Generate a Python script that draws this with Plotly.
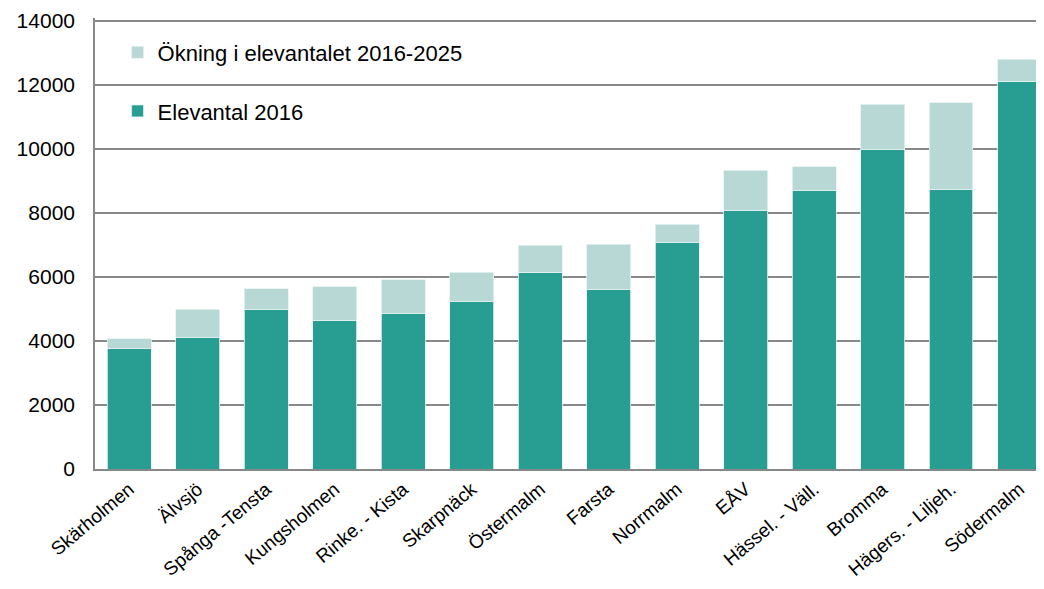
import plotly.graph_objects as go

districts = [
    "Skärholmen", "Älvsjö", "Spånga -Tensta", "Kungsholmen", "Rinke. - Kista",
    "Skarpnäck", "Östermalm", "Farsta", "Norrmalm", "EÅV", "Hässel. - Väll.",
    "Bromma", "Hägers. - Liljeh.", "Södermalm",
]
elevantal_2016 = [3750, 4100, 4990, 4650, 4850, 5220, 6150, 5600, 7060, 8070, 8680, 9990, 8740, 12110]
total_2025 = [4070, 4990, 5630, 5690, 5910, 6150, 6990, 7020, 7640, 9320, 9440, 11380, 11430, 12790]
okning = [t - b for t, b in zip(total_2025, elevantal_2016)]

DARK = "#289d92"
LIGHT = "#b7d8d5"

fig = go.Figure()
fig.add_trace(go.Bar(
    x=districts, y=elevantal_2016, name="Elevantal 2016",
    marker=dict(color=DARK, line=dict(color="#e6f2f1", width=0.8)),
    legendgroup="a", legendrank=2,
))
fig.add_trace(go.Bar(
    x=districts, y=okning, name="Ökning i elevantalet 2016-2025",
    marker=dict(color=LIGHT, line=dict(color="#e6f2f1", width=0.8)),
    legendgroup="b", legendrank=1,
))

# white box behind the legend hides the gridline there
fig.add_shape(
    type="rect", xref="paper", yref="paper",
    x0=0.003, x1=0.459, y0=0.733, y1=0.97,
    fillcolor="white", line=dict(width=0), layer="below",
)

fig.update_layout(
    width=1028,
    height=573,
    barmode="stack",
    bargap=0.36,
    paper_bgcolor="white",
    plot_bgcolor="white",
    font=dict(family="Liberation Sans, Arial, sans-serif", color="#000000", size=19),
    margin=dict(l=87, r=0, t=10, b=112),
    legend=dict(
        x=0.024, y=0.97, xanchor="left", yanchor="top",
        traceorder="grouped", tracegroupgap=27,
        bgcolor="rgba(0,0,0,0)", font=dict(size=22),
    ),
)
fig.update_xaxes(
    range=[-0.5, 13.24],
    showline=True, linecolor="#888888", linewidth=1.6,
    tickangle=-40, tickfont=dict(size=19),
    ticks="",
)
fig.update_yaxes(
    range=[0, 14080], dtick=2000, tickformat="d",
    showline=True, linecolor="#888888", linewidth=1.6,
    showgrid=True, gridcolor="#888888", gridwidth=1.6,
    ticks="inside", ticklen=6, tickcolor="#888888",
    tickfont=dict(size=21), ticklabelstandoff=14,
    zeroline=False,
)

fig.write_html("out.html")
